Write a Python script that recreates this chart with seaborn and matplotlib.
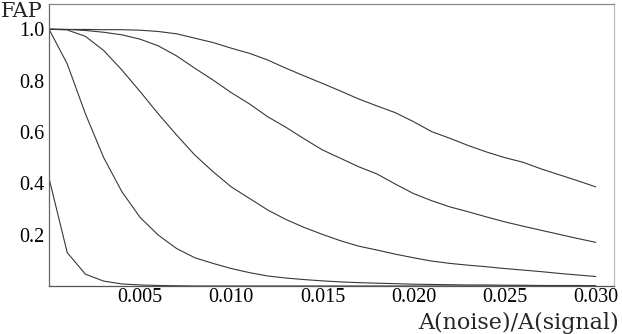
import numpy as np
import pandas as pd
import matplotlib
matplotlib.use("Agg")
import matplotlib.pyplot as plt
import seaborn as sns

x_vals = [round(0.001 * i, 3) for i in range(31)]

curve1 = [0.42, 0.13, 0.046, 0.019, 0.008, 0.004, 0.002, 0.001] + [0.0] * 23
curve2 = [1.0, 0.865, 0.67, 0.50, 0.367, 0.267, 0.198, 0.146, 0.11, 0.088,
          0.068, 0.052, 0.039, 0.031, 0.025, 0.02, 0.016, 0.013, 0.011, 0.009,
          0.007, 0.006, 0.005, 0.004, 0.004, 0.003, 0.003, 0.002, 0.002, 0.002, 0.001]
curve3 = [1.0, 0.997, 0.972, 0.917, 0.841, 0.757, 0.67, 0.588, 0.51, 0.445,
          0.386, 0.341, 0.296, 0.259, 0.228, 0.201, 0.176, 0.155, 0.14, 0.124,
          0.11, 0.097, 0.088, 0.081, 0.075, 0.068, 0.062, 0.056, 0.049, 0.043, 0.037]
curve4 = [1.0, 0.999, 0.995, 0.988, 0.978, 0.961, 0.935, 0.896, 0.848, 0.802,
          0.753, 0.709, 0.659, 0.618, 0.573, 0.53, 0.497, 0.464, 0.436, 0.397,
          0.36, 0.332, 0.308, 0.289, 0.269, 0.25, 0.233, 0.217, 0.201, 0.185, 0.17]
curve5 = [1.0, 0.999, 0.999, 0.998, 0.998, 0.996, 0.991, 0.982, 0.965, 0.948,
          0.926, 0.906, 0.88, 0.848, 0.818, 0.789, 0.759, 0.728, 0.701, 0.675,
          0.64, 0.601, 0.575, 0.547, 0.522, 0.50, 0.482, 0.456, 0.433, 0.41, 0.386]

x_ticks = [0.005, 0.010, 0.015, 0.020, 0.025, 0.030]
x_tick_labels = ["0.005", "0.010", "0.015", "0.020", "0.025", "0.030"]
y_ticks = [0.2, 0.4, 0.6, 0.8, 1.0]
y_tick_labels = ["0.2", "0.4", "0.6", "0.8", "1.0"]

frames = []
for name, vals in [("c1", curve1), ("c2", curve2), ("c3", curve3), ("c4", curve4), ("c5", curve5)]:
    frames.append(pd.DataFrame({"x": x_vals, "FAP": vals, "curve": name}))
df = pd.concat(frames, ignore_index=True)

sns.set_theme(style="white")
plt.rcParams["font.family"] = ["Liberation Serif", "DejaVu Serif"]

fig = plt.figure(figsize=(6.22, 3.34), dpi=100)
ax = fig.add_axes([49 / 622, 1 - 286 / 334, (614 - 49) / 622, (286 - 3.5) / 334])

sns.lineplot(data=df, x="x", y="FAP", hue="curve", units="curve", estimator=None,
             palette=["#383838"] * 5, linewidth=0.8, legend=False, ax=ax)

ax.set_xlim(0, 0.031)
ax.set_ylim(0, 1.1)
ax.set_xticks(x_ticks)
ax.set_xticklabels(x_tick_labels)
ax.set_yticks(y_ticks)
ax.set_yticklabels(y_tick_labels)
ax.set_xlabel("")
ax.set_ylabel("")
ax.tick_params(direction="in", length=5, width=0.8, color="#888888",
               labelsize=14.5, labelcolor="black")
ax.tick_params(axis="y", pad=3)
ax.tick_params(axis="x", pad=1.5)

for side, col in [("left", "#666666"), ("bottom", "#555555"), ("top", "#888888"), ("right", "#bbbbbb")]:
    ax.spines[side].set_visible(True)
    ax.spines[side].set_color(col)
    ax.spines[side].set_linewidth(0.9)

fig.text(1 / 622, 1 - 16.7 / 334, "FAP", ha="left", va="baseline", fontsize=15,
         family=["DejaVu Serif"])
fig.text(619 / 622, 1 - 329 / 334, "A(noise)/A(signal)", ha="right", va="baseline",
         fontsize=16, family=["DejaVu Serif"])

fig.savefig("out.png", dpi=100)
